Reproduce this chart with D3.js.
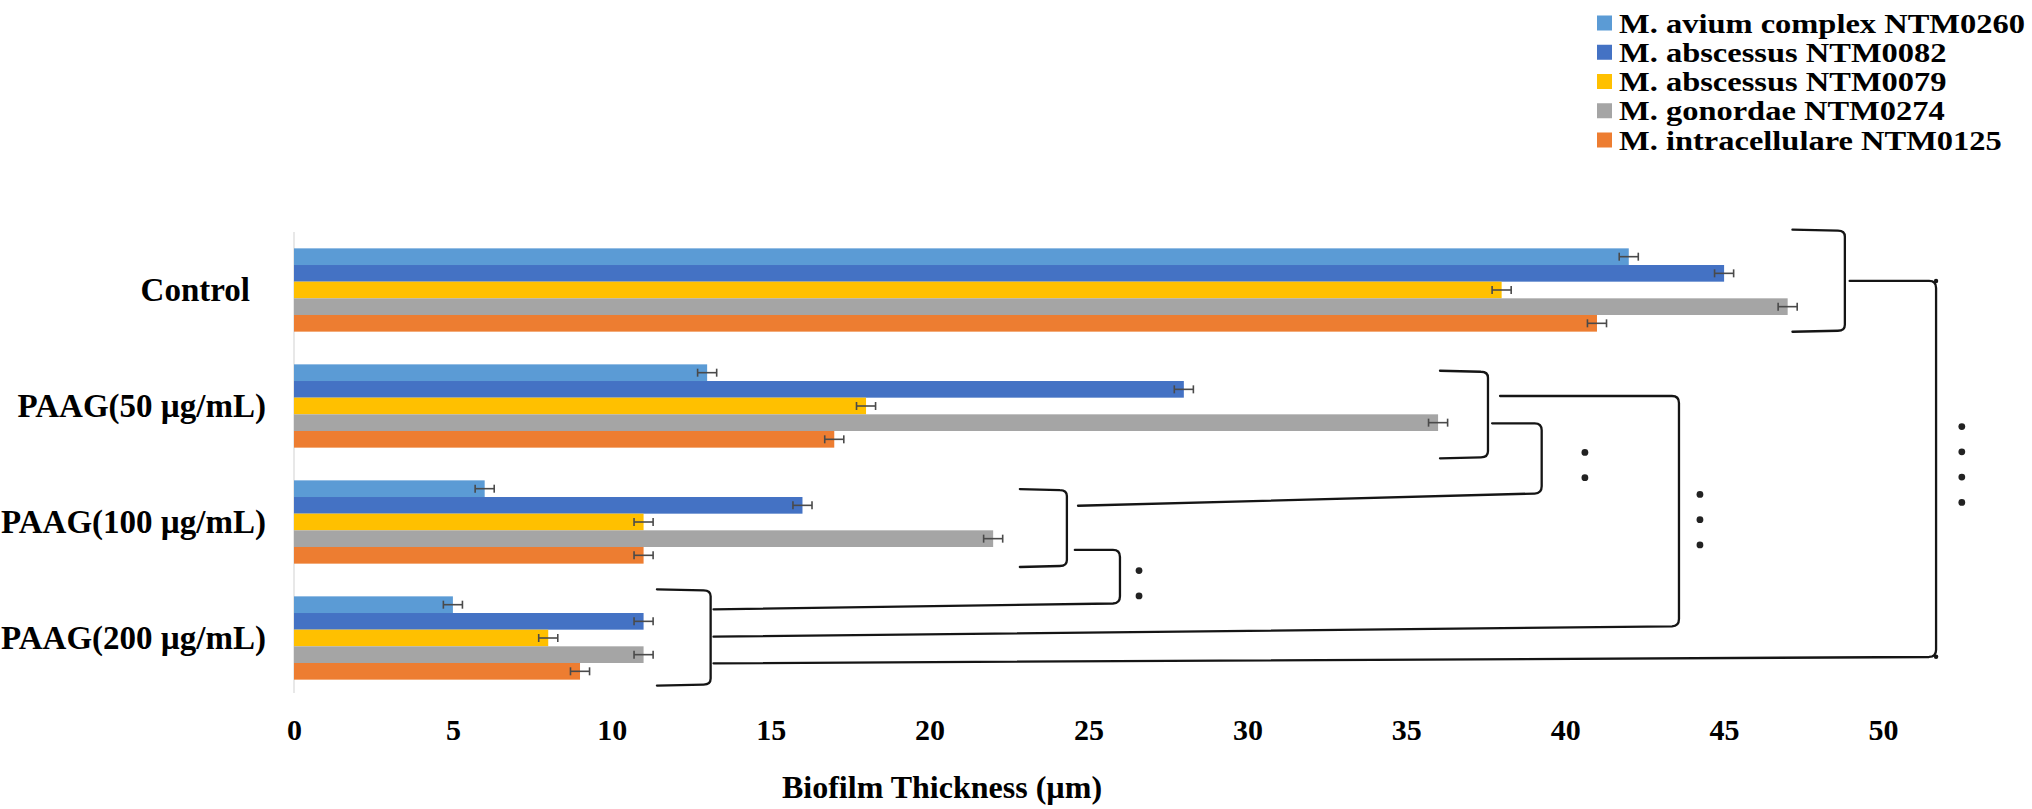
<!DOCTYPE html>
<html>
<head>
<meta charset="utf-8">
<script src="https://cdn.jsdelivr.net/npm/d3@7"></script>
<style>
  html, body { margin: 0; padding: 0; background: #fff; }
  text { font-family: "Liberation Serif", "Times New Roman", "DejaVu Serif", serif; font-weight: bold; fill: #000; }
</style>
</head>
<body>
<svg id="chart" width="2032" height="809"></svg>
<script>
// ---------- data ----------
const categories = ["Control", "PAAG(50 µg/mL)", "PAAG(100 µg/mL)", "PAAG(200 µg/mL)"];
const seriesNames = [
  "M. avium complex NTM0260",
  "M. abscessus NTM0082",
  "M. abscessus NTM0079",
  "M. gonordae NTM0274",
  "M. intracellulare NTM0125"
];
const aviumNTM0260      = [42, 13, 6, 5];
const abscessusNTM0082  = [45, 28, 16, 11];
const abscessusNTM0079  = [38, 18, 11, 8];
const gonordaeNTM0274   = [47, 36, 22, 11];
const intracellulare0125 = [41, 17, 11, 9];
const errorValues = [0.3, 0.3, 0.3, 0.3, 0.3];
const xTicks = [0, 5, 10, 15, 20, 25, 30, 35, 40, 45, 50];
const xTitle = "Biofilm Thickness (µm)";

// significance annotations, in data units (x: thickness, y: category-band units)
const bracketDefs = [
  { arm: 47.15, spine: 48.8,  top: -0.02, bottom: 0.86 },
  { arm: 36.06, spine: 37.57, top: 1.196, bottom: 1.951 },
  { arm: 22.84, spine: 24.32, top: 2.216, bottom: 2.888 },
  { arm: 11.42, spine: 13.11, top: 3.08,  bottom: 3.91 }
];
const connectorDefs = [
  [[48.95, 0.422], [51.67, 0.422], [51.67, 3.661], [13.2, 3.718]],
  [[37.95, 1.414], [43.58, 1.414], [43.58, 3.397], [13.2, 3.489]],
  [[37.7, 1.649],  [39.26, 1.649], [39.26, 2.252], [24.67, 2.36]],
  [[24.57, 2.741], [25.99, 2.741], [25.99, 3.2],   [13.2, 3.253]]
];
const sigDefs = [
  { n: 4, x: 52.48, cy: 2.004 },
  { n: 3, x: 44.24, cy: 2.48 },
  { n: 2, x: 40.62, cy: 2.009 },
  { n: 2, x: 26.59, cy: 3.028 }
];

const seriesValues = [aviumNTM0260, abscessusNTM0082, abscessusNTM0079, gonordaeNTM0274, intracellulare0125];
const colors = ["#5B9BD5", "#4472C4", "#FFC000", "#A5A5A5", "#ED7D31"];

// ---------- layout ----------
const svg = d3.select("#chart");
const x = d3.scaleLinear().domain([0, 50]).range([294, 1883]);
const y = d3.scaleBand().domain(categories).range([232, 696]).paddingInner(0.282).paddingOuter(0.141);
const ySub = d3.scaleBand().domain(d3.range(seriesNames.length)).range([0, y.bandwidth()]);
const yLin = d3.scaleLinear().domain([0, 4]).range([232, 696]);
const color = d3.scaleOrdinal().domain(d3.range(seriesNames.length)).range(colors);

// faint vertical axis line
svg.append("line")
  .attr("x1", x(0)).attr("x2", x(0))
  .attr("y1", yLin(0)).attr("y2", yLin(4) - 3)
  .attr("stroke", "#d9d9d9").attr("stroke-width", 1.2);

// bars
const rows = [];
categories.forEach((c, ci) => {
  seriesValues.forEach((vals, si) => rows.push({ c, si, v: vals[ci], e: errorValues[si] }));
});

svg.append("g").selectAll("rect").data(rows).join("rect")
  .attr("x", x(0))
  .attr("y", d => y(d.c) + ySub(d.si))
  .attr("width", d => x(d.v) - x(0))
  .attr("height", ySub.bandwidth())
  .attr("fill", d => color(d.si));

// error bars
const eb = svg.append("g").attr("stroke", "#4a4a4a").attr("stroke-width", 1.6);
rows.forEach(d => {
  const cy = y(d.c) + ySub(d.si) + ySub.bandwidth() / 2;
  eb.append("line").attr("x1", x(d.v - d.e)).attr("x2", x(d.v + d.e)).attr("y1", cy).attr("y2", cy);
  [d.v - d.e, d.v + d.e].forEach(v =>
    eb.append("line").attr("x1", x(v)).attr("x2", x(v)).attr("y1", cy - 4).attr("y2", cy + 4));
});

// category labels
svg.append("g").selectAll("text").data(categories).join("text")
  .attr("x", 266)
  .attr("dx", d => d === "Control" ? -16 : 0)
  .attr("y", d => y(d) + y.bandwidth() / 2 + 11)
  .attr("text-anchor", "end")
  .style("font-size", "33px")
  .text(d => d);

// x axis tick labels
const xAxis = d3.axisBottom(x).tickValues(xTicks).tickSize(0).tickPadding(0).tickFormat(d3.format("d"));
const gx = svg.append("g").attr("transform", "translate(0,719)").call(xAxis);
gx.select(".domain").remove();
gx.selectAll("text")
  .attr("y", 0).attr("dy", "0.71em")
  .style("font-size", "30px")
  .style("font-family", '"Liberation Serif", "Times New Roman", serif')
  .style("font-weight", "bold")
  .attr("fill", "#000");

// x axis title
svg.append("text")
  .attr("x", 942).attr("y", 798)
  .attr("text-anchor", "middle")
  .style("font-size", "32px")
  .text(xTitle);

// brackets
const ink = svg.append("g").attr("fill", "none").attr("stroke", "#151515").attr("stroke-width", 2.3)
  .attr("stroke-linejoin", "round").attr("stroke-linecap", "round");
const r = 7;
bracketDefs.forEach(b => {
  const xa = x(b.arm), xs = x(b.spine), yt = yLin(b.top), yb = yLin(b.bottom);
  const p = d3.path();
  p.moveTo(xa, yt);
  p.lineTo(xs - r, yt + 1);
  p.quadraticCurveTo(xs, yt + 1, xs, yt + r);
  p.lineTo(xs, yb - r);
  p.quadraticCurveTo(xs, yb - 1, xs - r, yb - 1);
  p.lineTo(xa, yb);
  ink.append("path").attr("d", p.toString());
});

// connectors
connectorDefs.forEach(pts => {
  const P = pts.map(([vx, vy]) => [x(vx), yLin(vy)]);
  const p = d3.path();
  p.moveTo(P[0][0], P[0][1]);
  p.lineTo(P[1][0] - r, P[1][1]);
  p.quadraticCurveTo(P[1][0], P[1][1], P[1][0], P[1][1] + r);
  p.lineTo(P[2][0], P[2][1] - r);
  p.quadraticCurveTo(P[2][0], P[2][1], P[2][0] - r, P[2][1] + 0.3);
  p.lineTo(P[3][0], P[3][1]);
  ink.append("path").attr("d", p.toString());
});
// small end marks on the outer connector
const outer = connectorDefs[0];
[[outer[1][0], outer[1][1]], [outer[2][0], outer[2][1]]].forEach(([vx, vy]) =>
  svg.append("circle").attr("cx", x(vx)).attr("cy", yLin(vy)).attr("r", 2.2).attr("fill", "#151515"));

// significance dots
const dotStep = 0.218;
sigDefs.forEach(s => {
  const ys = d3.range(s.n).map(i => s.cy + (i - (s.n - 1) / 2) * dotStep);
  svg.append("g").selectAll("circle").data(ys).join("circle")
    .attr("cx", x(s.x)).attr("cy", d => yLin(d)).attr("r", 3.4).attr("fill", "#222");
});

// legend
const lg = svg.append("g");
const legY = d3.scaleLinear().domain([0, 4]).range([23, 140]);
const legTexts = [];
seriesNames.forEach((name, i) => {
  lg.append("rect").attr("x", 1597).attr("y", legY(i) - 7.5).attr("width", 15).attr("height", 15).attr("fill", color(i));
  const t = lg.append("text")
    .attr("transform", `translate(1619,${legY(i) + 9.5})`)
    .style("font-size", "26px")
    .text(name);
  legTexts.push(t);
});
// widen legend glyphs horizontally to match the reference's wide lettering
const natural = legTexts[0].node().getComputedTextLength();
const sx = 406 / natural;
legTexts.forEach((t, i) => t.attr("transform", `translate(1619,${legY(i) + 9.5}) scale(${sx},1.08)`));
</script>
</body>
</html>
